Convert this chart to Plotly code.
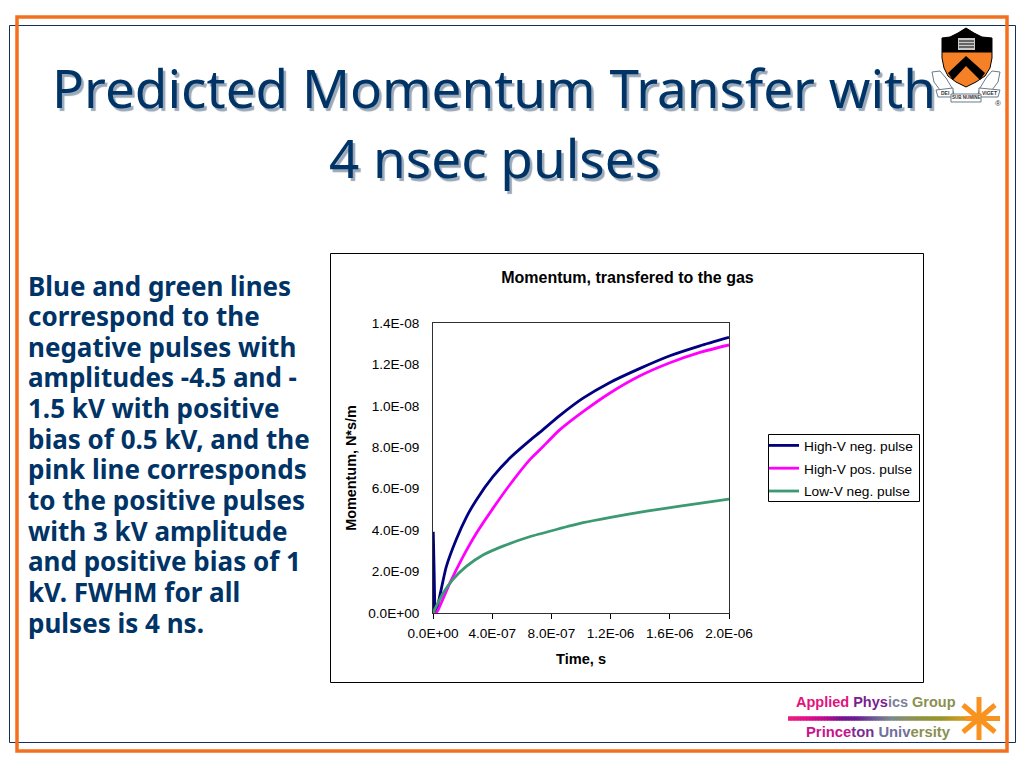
import plotly.graph_objects as go

W, H = 1024, 768

# ---- data ----
series_names = ["High-V neg. pulse", "High-V pos. pulse", "Low-V neg. pulse"]
series_colors = ["#000080", "#FF00FF", "#3C9A72"]

neg_high_t = [0, 2e-9, 8e-9, 1.7e-8, 2.5e-8, 4.5e-8, 9.0e-8, 1.57e-7, 2.25e-7, 2.93e-7, 4.05e-7, 5.18e-7,
              6.53e-7, 7.21e-7, 8.56e-7, 1.014e-6, 1.196e-6, 1.399e-6, 1.601e-6, 1.804e-6, 2e-6]
neg_high_v = [0, 3.85e-9, 1.9e-9, 0.1e-9, 0.15e-9, 7.9e-10, 2.24e-9, 3.55e-9, 4.62e-9, 5.46e-9, 6.58e-9, 7.47e-9,
              8.32e-9, 8.72e-9, 9.53e-9, 1.037e-8, 1.113e-8, 1.181e-8, 1.242e-8, 1.29e-8, 1.331e-8]

pos_high_t = [0, 2e-8, 3.4e-8, 1.13e-7, 2.03e-7, 2.93e-7, 4.05e-7, 5.18e-7, 6.53e-7, 7.32e-7, 8.56e-7, 1.014e-6,
              1.196e-6, 1.399e-6, 1.601e-6, 1.804e-6, 2e-6]
pos_high_v = [0, 0, 1.4e-10, 1.43e-9, 2.72e-9, 3.85e-9, 5.05e-9, 6.18e-9, 7.39e-9, 7.95e-9, 8.84e-9, 9.72e-9,
              1.062e-8, 1.145e-8, 1.208e-8, 1.258e-8, 1.294e-8]

neg_low_t = [0, 6.8e-8, 1.35e-7, 2.25e-7, 3.38e-7, 4.73e-7, 6.53e-7, 8.33e-7, 1.014e-6, 1.2e-6, 1.444e-6, 1.669e-6, 2e-6]
neg_low_v = [0, 9.5e-10, 1.62e-9, 2.25e-9, 2.8e-9, 3.23e-9, 3.68e-9, 4.03e-9, 4.36e-9, 4.62e-9, 4.92e-9, 5.16e-9, 5.5e-9]

x_tick_vals = [0, 4e-7, 8e-7, 1.2e-6, 1.6e-6, 2e-6]
x_tick_text = ["0.0E+00", "4.0E-07", "8.0E-07", "1.2E-06", "1.6E-06", "2.0E-06"]
y_tick_vals = [0, 2e-9, 4e-9, 6e-9, 8e-9, 1e-8, 1.2e-8, 1.4e-8]
y_tick_text = ["0.0E+00", "2.0E-09", "4.0E-09", "6.0E-09", "8.0E-09", "1.0E-08", "1.2E-08", "1.4E-08"]

title_lines = ["Predicted Momentum Transfer with", "4 nsec pulses"]
body_lines = ["Blue and green lines", "correspond to the", "negative pulses with",
              "amplitudes -4.5 and -", "1.5 kV with positive", "bias of 0.5 kV, and the",
              "pink line corresponds", "to the positive pulses", "with 3 kV amplitude",
              "and positive bias of 1", "kV. FWHM for all", "pulses is 4 ns."]

NAVY = "#003366"
ORANGE = "#F4701F"
ARIAL = "Liberation Sans"
SLIDE = "Noto Sans"


def fx(x):
    return x / W


def fy(y):
    return 1 - y / H


def rect(x0, y0, x1, y1, line=None, fill=None, lw=1):
    return dict(type="rect", xref="paper", yref="paper", x0=fx(x0), x1=fx(x1), y0=fy(y0), y1=fy(y1),
                line=dict(color=line or "rgba(0,0,0,0)", width=lw), fillcolor=fill or "rgba(0,0,0,0)",
                layer="below")


def path(points, fill=None, line=None, lw=1, close=True, layer="above"):
    s = "M " + " L ".join(f"{fx(px):.5f},{fy(py):.5f}" for px, py in points) + (" Z" if close else "")
    return dict(type="path", xref="paper", yref="paper", path=s,
                fillcolor=fill or "rgba(0,0,0,0)",
                line=dict(color=line or "rgba(0,0,0,0)", width=lw), layer=layer)


def text(x, y, s, size, color, font=SLIDE, bold=False, anchor="center", angle=0, shadow=None):
    f = dict(size=size, color=color, family=font)
    if shadow:
        f["shadow"] = shadow
    return dict(xref="paper", yref="paper", x=fx(x), y=fy(y), text=f"<b>{s}</b>" if bold else s,
                showarrow=False, xanchor=anchor, yanchor="middle", textangle=angle,
                font=f, borderpad=0, borderwidth=0)


shapes = [
    rect(9.5, 25.5, 1015.5, 742.5, line="#12305A", lw=1),
    rect(17, 17, 1007, 751, line=ORANGE, lw=3.5),
    rect(330.5, 253.5, 923.5, 682.5, line="#000000", fill="#FFFFFF", lw=1),
    rect(768.5, 434.5, 919.5, 501.5, line="#000000", fill="#FFFFFF", lw=1),
]

# Princeton shield
shield_outline = [(942, 38), (950, 37), (958, 33), (966, 28), (974, 33), (982, 37), (992, 38),
                  (992, 58), (990, 68), (985, 76), (976, 82), (966, 87), (956, 82), (948, 76),
                  (944, 68), (942, 58)]
shapes.append(path(shield_outline, fill="#F58025", line="#000000", lw=1))
shapes.append(path([(942, 38), (950, 37), (958, 33), (966, 28), (974, 33), (982, 37), (992, 38),
                    (992, 52.5), (942, 52.5)], fill="#000000"))
shapes.append(path([(948, 73), (966, 56), (985, 73), (980, 80), (966, 66), (953, 80)], fill="#000000"))
shapes.append(path([(958, 38), (975, 38), (975, 50), (958, 50)], fill="#C9C9C9"))
for yy in (41, 44, 47):
    shapes.append(path([(959, yy), (974, yy)], line="#000000", lw=1, close=False))
# scrolls of the shield
shapes.append(path([(932, 72), (940, 71), (946, 78), (952, 88), (955, 97), (950, 96), (940, 90), (934, 82)],
                   fill="#FFFFFF", line="#6A7A8A", lw=1))
shapes.append(path([(1000, 72), (992, 71), (986, 78), (980, 88), (977, 97), (982, 96), (992, 90), (998, 82)],
                   fill="#FFFFFF", line="#6A7A8A", lw=1))
shapes.append(path([(936, 90), (953, 88), (953, 97), (938, 97)], fill="#FFFFFF", line="#6A7A8A", lw=1))
shapes.append(path([(979, 88), (1000, 90), (998, 97), (979, 97)], fill="#FFFFFF", line="#6A7A8A", lw=1))
shapes.append(path([(951, 94), (981, 94), (981, 102), (951, 102)], fill="#FFFFFF", line="#6A7A8A", lw=1))

# Applied Physics Group bar with colour run
bar_stops = [(236, 28, 126), (224, 16, 138), (192, 12, 140), (120, 16, 144), (106, 30, 144), (109, 90, 148),
             (122, 138, 140), (138, 144, 96), (144, 148, 56), (152, 150, 42), (200, 154, 32), (247, 147, 30)]
bar_x0, bar_dx = 788, 3.0
bar_n = 63
for i in range(bar_n):
    pos = i / (bar_n - 1) * (len(bar_stops) - 1)
    k = min(int(pos), len(bar_stops) - 2)
    w = pos - k
    r, g, b = [round(bar_stops[k][j] * (1 - w) + bar_stops[k + 1][j] * w) for j in range(3)]
    shapes.append(path([(bar_x0 + i * bar_dx, 718.5), (bar_x0 + (i + 1) * bar_dx + 0.5, 718.5)],
                       line=f"rgb({r},{g},{b})", lw=4.5, close=False))
for x0, y0, x1, y1 in [(979, 697, 979, 740), (963, 705, 995, 732), (963, 732, 995, 705), (966, 718.5, 1000, 718.5)]:
    shapes.append(path([(x0, y0), (x1, y1)], line="#F7931E", lw=5, close=False))

annotations = []
# title, with its shadow
for ln, yc in zip(title_lines, (87, 157)):
    annotations.append(text(494, yc, ln, 53, NAVY, shadow="2.5px 2.5px 1px #9AA8B8"))

# body text
body_y = [286, 316, 347, 377, 408, 439, 469, 500, 531, 561, 592, 623]
for ln, yy in zip(body_lines, body_y):
    annotations.append(text(28, yy, ln, 26, NAVY, bold=True, anchor="left"))

# shield mottoes
annotations.append(text(945, 93, "DEI", 5, "#333333", font=ARIAL, bold=True))
annotations.append(text(966, 98, "SUB NUMINE", 4.5, "#333333", font=ARIAL, bold=True))
annotations.append(text(989, 93, "VIGET", 5, "#333333", font=ARIAL, bold=True))
annotations.append(text(998, 103, "®", 8, "#333333", font=ARIAL))

# group text
annotations.append(text(876, 702,
    '<span style="color:#E0147C">Applied </span><span style="color:#7A1E90">Phys</span>'
    '<span style="color:#7A7F9A">ics </span><span style="color:#8A9050">Group</span>',
    14.5, "#000000", font=ARIAL, bold=True))
annotations.append(text(878, 732,
    '<span style="color:#C8148C">Prince</span><span style="color:#7A2E90">ton </span>'
    '<span style="color:#70709A">Univ</span><span style="color:#8A9050">ersity</span>',
    14.8, "#000000", font=ARIAL, bold=True))

fig = go.Figure()
xs = [neg_high_t, pos_high_t, neg_low_t]
ys = [neg_high_v, pos_high_v, neg_low_v]
for name, color, tx, vy in zip(series_names, series_colors, xs, ys):
    fig.add_trace(go.Scatter(x=tx, y=vy, mode="lines", name=name, legendgroup=name,
                             line=dict(color=color, width=2.8, shape="spline", smoothing=0.6)))

fig.update_layout(
    width=W, height=H, autosize=False,
    margin=dict(l=0, r=0, t=0, b=0, pad=0, autoexpand=False),
    paper_bgcolor="#FFFFFF", plot_bgcolor="rgba(0,0,0,0)",
    font=dict(family=ARIAL, size=13.6, color="#000000"),
    title=dict(text="<b>Momentum, transfered to the gas</b>", x=fx(627.5), y=fy(277), xref="paper", yref="paper",
               xanchor="center", yanchor="middle", font=dict(size=16, family=ARIAL, color="#000000")),
    shapes=shapes,
    annotations=annotations,
    showlegend=True,
    legend=dict(x=fx(764), y=fy(430), xanchor="left", yanchor="top", bgcolor="rgba(0,0,0,0)",
                borderwidth=0, font=dict(size=13.7, family=ARIAL),
                tracegroupgap=2, itemwidth=30),
    xaxis=dict(domain=[fx(433), fx(729)], range=[0, 2e-6], tickmode="array", tickvals=x_tick_vals,
               ticktext=x_tick_text, ticks="outside", ticklen=5, tickcolor="#000000", showgrid=False,
               zeroline=False, showline=True, linecolor="#303030", linewidth=1, mirror=True,
               ticklabelstandoff=3, tickangle=0,
               title=dict(text="<b>Time, s</b>", font=dict(size=14.6, family=ARIAL), standoff=13)),
    yaxis=dict(domain=[fy(613), fy(323)], range=[0, 1.4e-8], tickmode="array", tickvals=y_tick_vals,
               ticktext=y_tick_text, ticks="", showgrid=False, zeroline=False, showline=True,
               linecolor="#303030", linewidth=1, mirror=True, ticklabelstandoff=10,
               title=dict(text="<b>Momentum, N*s/m</b>", font=dict(size=14.4, family=ARIAL), standoff=8)),
)

fig.write_html("out.html", config={"displayModeBar": False},
               post_script="document.body.style.margin='0';document.body.style.overflow='hidden';")
